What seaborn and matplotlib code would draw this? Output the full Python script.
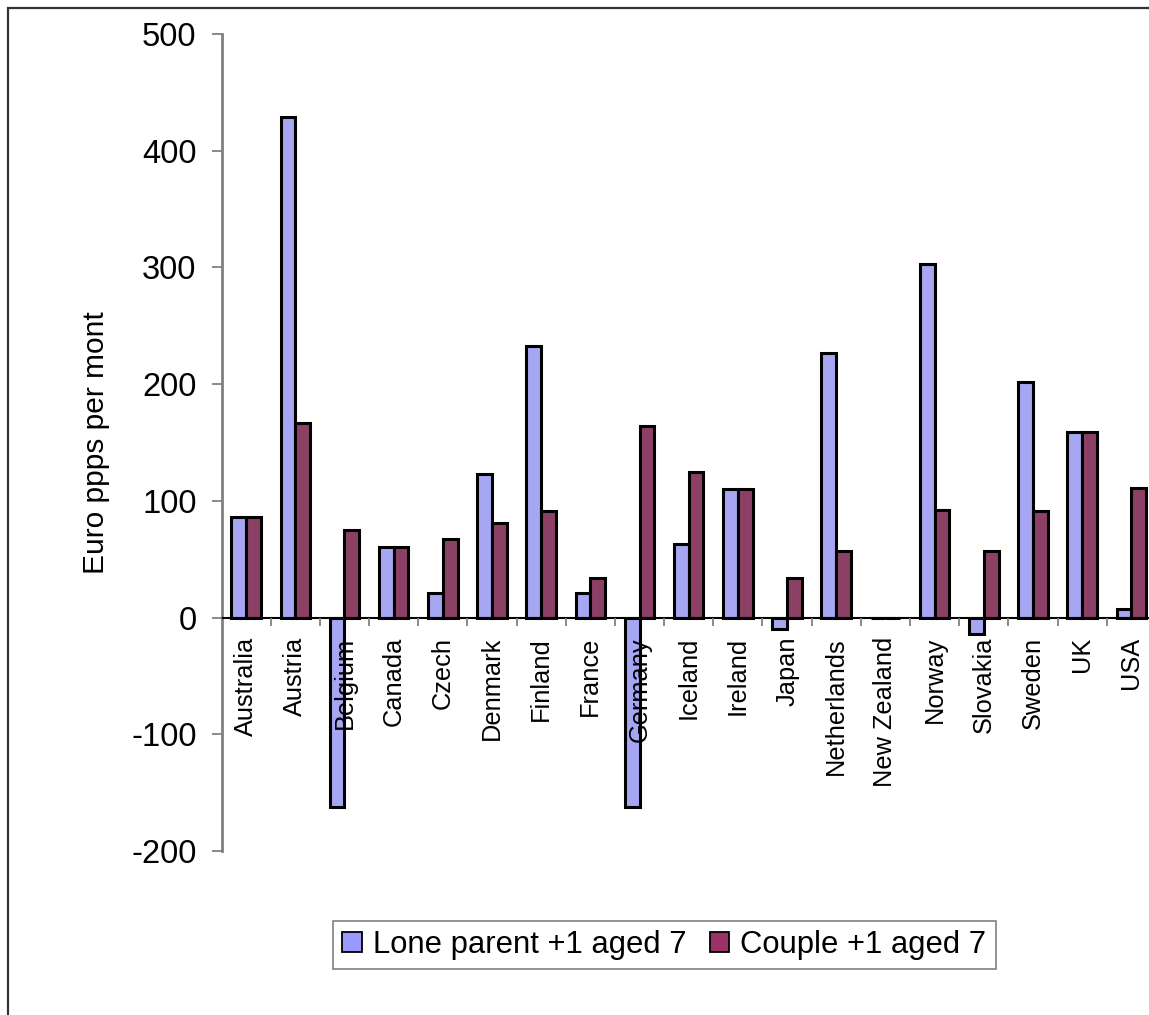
import pandas as pd
import seaborn as sns
import matplotlib.pyplot as plt
from matplotlib.patches import Rectangle

# data (Euro ppps per month)
countries = ['Australia', 'Austria', 'Belgium', 'Canada', 'Czech', 'Denmark', 'Finland',
             'France', 'Germany', 'Iceland', 'Ireland', 'Japan', 'Netherlands',
             'New Zealand', 'Norway', 'Slovakia', 'Sweden', 'UK', 'USA']
lone_parent = [86, 429, -162, 60, 21, 123, 233, 21, -162, 63, 110, -10, 227, 0, 303, -14, 202, 159, 7]
couple = [86, 167, 75, 60, 67, 81, 91, 34, 164, 125, 110, 34, 57, 0, 92, 57, 91, 159, 111]
series_names = ['Lone parent +1 aged 7', 'Couple +1 aged 7']
colors = ['#9999FF', '#993366']

df = pd.DataFrame({
    'country': countries * 2,
    'value': lone_parent + couple,
    'series': [series_names[0]] * len(countries) + [series_names[1]] * len(countries),
})

sns.set_style('white')
plt.rcParams['font.family'] = ['Liberation Sans', 'DejaVu Sans']
plt.rcParams['axes.unicode_minus'] = False
plt.rcParams['text.color'] = 'black'
plt.rcParams['axes.labelcolor'] = 'black'

fig = plt.figure(figsize=(11.49, 10.15), dpi=100)
ax = fig.add_axes([0.1928, 0.1616, 0.8132, 0.805])

sns.barplot(data=df, x='country', y='value', hue='series', palette=colors,
            width=0.6, edgecolor='black', linewidth=2.2, ax=ax, legend=False)
ax.set_axisbelow(False)  # country names go over the bars, as in the original

ax.set_xlim(-0.5, len(countries) - 0.5)
ax.set_ylim(-200, 500)
ax.set_yticks(range(-200, 501, 100))
ax.tick_params(axis='y', labelsize=23.5, colors='#808080', labelcolor='black',
               direction='out', length=7, width=1.3, pad=11, left=True)

# x axis sits on the zero line, ticks between categories
ax.spines['bottom'].set_position(('data', 0))
ax.spines['bottom'].set_color('black')
ax.spines['bottom'].set_linewidth(1.5)
ax.spines['left'].set_color('#808080')
ax.spines['left'].set_linewidth(2)
ax.spines['top'].set_visible(False)
ax.spines['right'].set_visible(False)

ax.set_xticks(range(len(countries)))
ax.set_xticklabels(countries, rotation=90, fontsize=18.3, color='black')
ax.tick_params(axis='x', length=0, pad=14)
ax.set_xticks([i + 0.5 for i in range(len(countries))], minor=True)
ax.tick_params(axis='x', which='minor', direction='out', length=6, width=1.3,
               color='#808080', bottom=True)

ax.set_xlabel('')
ax.set_ylabel('Euro ppps per mont', fontsize=21.5, color='black')
ax.yaxis.set_label_coords(-0.119, 0.5)

# legend
handles = [Rectangle((0, 0), 1, 1, facecolor=c, edgecolor='black', linewidth=1.3) for c in colors]
leg = fig.legend(handles, series_names, loc='center', bbox_to_anchor=(0.5783, 0.069),
                 ncol=2, fontsize=22.3, frameon=True, fancybox=False, shadow=False,
                 handlelength=0.62, handleheight=0.62, handletextpad=0.37,
                 columnspacing=0.75, borderpad=0.3, borderaxespad=0, labelcolor='black')
leg.get_frame().set_edgecolor('#606060')
leg.get_frame().set_linewidth(1.2)

# chart area border
fig.patches.append(Rectangle((8 / 1149, -0.05), 1.2, 1.05 - 7.5 / 1015, fill=False,
                             edgecolor='#333333', linewidth=1.6, transform=fig.transFigure))

plt.savefig('out.png', dpi=100)
